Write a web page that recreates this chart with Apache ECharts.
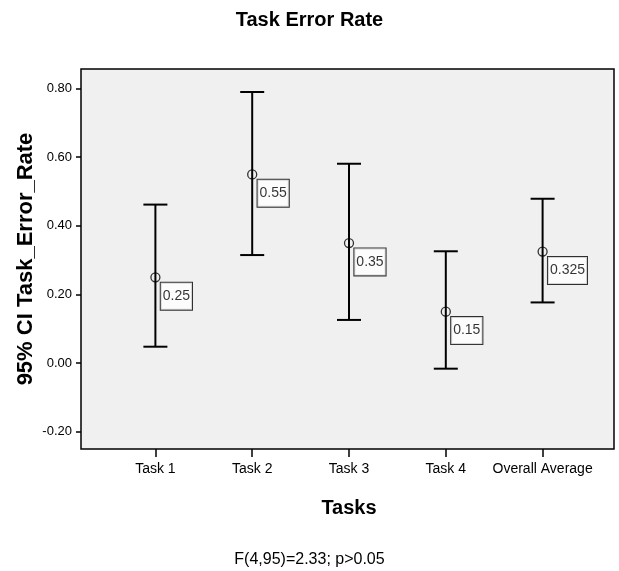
<!DOCTYPE html>
<html>
<head>
<meta charset="utf-8">
<script src="https://cdn.jsdelivr.net/npm/echarts@6/dist/echarts.min.js"></script>
<style>html,body{margin:0;padding:0;background:#fff}#c{width:619px;height:571px}</style>
</head>
<body>
<div id="c"></div>
<script>
var categories = ['Task 1', 'Task 2', 'Task 3', 'Task 4', 'Overall Average'];
var means = [0.25, 0.55, 0.35, 0.15, 0.325];
var lower = [0.048, 0.315, 0.126, -0.016, 0.177];
var upper = [0.462, 0.79, 0.581, 0.326, 0.479];
var yTicks = [-0.2, 0, 0.2, 0.4, 0.6, 0.8];

var NARROW = "'Liberation Sans Narrow', 'Arial Narrow', 'Liberation Sans', sans-serif";
var WIDE = "'Liberation Sans', Arial, sans-serif";
var Y_MIN = -0.25, Y_MAX = 0.857;

var chart = echarts.init(document.getElementById('c'), null, {renderer: 'canvas'});

var barData = categories.map(function (c, i) { return [i, lower[i], upper[i]]; });
var meanData = categories.map(function (c, i) { return [i, means[i]]; });

var option = {
  backgroundColor: '#ffffff',
  animation: false,
  title: [
    {text: 'Task Error Rate', left: 'center', top: 5,
     textStyle: {fontFamily: NARROW, fontWeight: 'bold', fontSize: 20, color: '#000'}},
    {text: 'F(4,95)=2.33; p>0.05', left: 'center', top: 547,
     textStyle: {fontFamily: NARROW, fontWeight: 'normal', fontSize: 16, color: '#000'}}
  ],
  grid: [
    {left: 81, right: 5, top: 69, bottom: 122, show: true, backgroundColor: '#f0f0f0',
     borderColor: '#000', borderWidth: 1.5, containLabel: false},
    {left: 107, right: 28, top: 69, bottom: 122, show: false, containLabel: false}
  ],
  xAxis: [
    {gridIndex: 0, type: 'value', min: 0, max: 1, show: false, axisLine: {onZero: false}},
    {gridIndex: 1, type: 'category', data: categories, boundaryGap: true, position: 'bottom',
     axisLine: {show: false, onZero: false},
     axisTick: {show: true, alignWithLabel: true, inside: false, length: 8,
                lineStyle: {color: '#000', width: 1.5}},
     axisLabel: {show: true, interval: 0, margin: 13, color: '#000',
                 fontFamily: NARROW, fontSize: 14},
     name: 'Tasks', nameLocation: 'middle', nameGap: 49, nameMoveOverlap: false,
     nameTextStyle: {fontFamily: NARROW, fontWeight: 'bold', fontSize: 20, color: '#000'}}
  ],
  yAxis: [
    {gridIndex: 0, type: 'value', min: Y_MIN, max: Y_MAX, position: 'left',
     axisLine: {show: false, onZero: false},
     splitLine: {show: false},
     axisTick: {show: true, length: 5, customValues: yTicks,
                lineStyle: {color: '#000', width: 1.5}},
     axisLabel: {show: true, customValues: yTicks, margin: 9, color: '#000',
                 fontFamily: NARROW, fontSize: 13,
                 formatter: function (v) { return Number(v).toFixed(2); }},
     name: '95% CI Task_Error_Rate', nameLocation: 'middle', nameGap: 44, nameMoveOverlap: false,
     nameTextStyle: {fontFamily: WIDE, fontWeight: 'bold', fontSize: 22, color: '#000'}},
    {gridIndex: 1, type: 'value', min: Y_MIN, max: Y_MAX, show: false, splitLine: {show: false}}
  ],
  series: [
    {
      type: 'custom', xAxisIndex: 1, yAxisIndex: 1, data: barData, z: 3,
      renderItem: function (params, api) {
        var x = api.value(0);
        var lo = api.coord([x, api.value(1)]);
        var hi = api.coord([x, api.value(2)]);
        var hw = 12;
        var style = {stroke: '#000', lineWidth: 2, fill: null};
        return {
          type: 'group',
          children: [
            {type: 'line', shape: {x1: lo[0], y1: lo[1], x2: hi[0], y2: hi[1]}, style: style},
            {type: 'line', shape: {x1: hi[0] - hw, y1: hi[1], x2: hi[0] + hw, y2: hi[1]}, style: style},
            {type: 'line', shape: {x1: lo[0] - hw, y1: lo[1], x2: lo[0] + hw, y2: lo[1]}, style: style}
          ]
        };
      }
    },
    {
      type: 'scatter', xAxisIndex: 1, yAxisIndex: 1, data: meanData, z: 4,
      symbol: 'circle', symbolSize: 9,
      itemStyle: {color: 'rgba(0,0,0,0)', borderColor: '#000', borderWidth: 1.3},
      label: {
        show: true, position: [10.5, 10.5], align: 'left', verticalAlign: 'top',
        formatter: function (p) { return String(p.value[1]); },
        fontFamily: NARROW, fontSize: 14, color: '#000',
        backgroundColor: '#ffffff', borderColor: '#000', borderWidth: 1,
        padding: [5, 2, 5, 2], lineHeight: 17
      },
      emphasis: {disabled: true}
    }
  ]
};
chart.setOption(option);
</script>
</body>
</html>
